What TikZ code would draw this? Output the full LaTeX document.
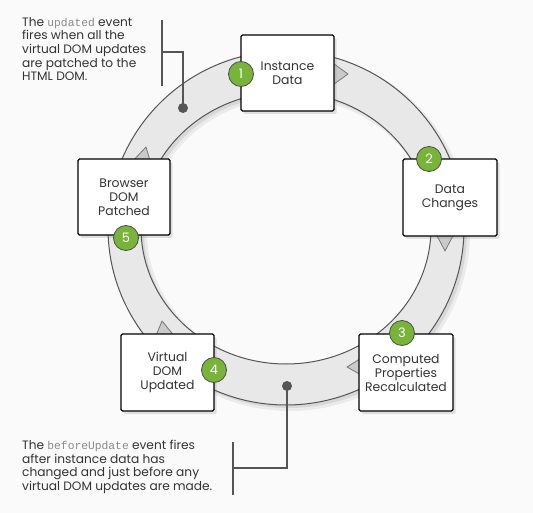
\documentclass[tikz,border=0pt]{standalone}
\usepackage{fontspec}
\setmainfont{Poppins}
\newfontfamily\codefont{Liberation Mono}
\usetikzlibrary{shadows}
\definecolor{bgcol}{HTML}{FAFAFA}
\definecolor{ringfill}{HTML}{E8E8E8}
\definecolor{ringline}{HTML}{555555}
\definecolor{tipfill}{HTML}{CACACA}
\definecolor{badgegreen}{HTML}{78B33A}
\definecolor{annot}{HTML}{555555}
\definecolor{txt}{HTML}{333333}
\definecolor{codegray}{HTML}{8A8A8A}
\newcommand{\cw}[1]{{\codefont\color{codegray}\fontsize{11.3}{13.6}\selectfont #1}}
\begin{document}
\begin{tikzpicture}[x=1pt,y=-1pt,
  stepbox/.style={draw=black, line width=1.1pt, fill=white, rounded corners=1.5pt,
    align=center, inner sep=2pt, text=txt,
    font=\fontsize{12.4}{14}\selectfont,
    drop shadow={opacity=0.22, shadow xshift=2.5pt, shadow yshift=-3pt}},
  badge/.style={circle, fill=badgegreen, draw=gray!60!black, line width=0.8pt,
    minimum size=25pt, inner sep=0pt, text=white, font=\fontsize{13}{13}\selectfont},
  tip/.style={fill=tipfill, draw=ringline!80, line width=0.8pt, line join=round},
  leader/.style={draw=annot, line width=1.2pt},
  note/.style={anchor=north west, inner sep=0pt, text=txt, align=left,
    font=\fontsize{12.2}{13.6}\selectfont},
  dotmark/.style={circle, fill=annot, inner sep=0pt, minimum size=10pt}
]
\fill[bgcol] (0,0) rectangle (533,513);
\useasboundingbox (0,0) rectangle (533,513);

% ring shadow and ring
\coordinate (rc) at (286,228);
\coordinate (rs) at (290,232);
\fill[black, opacity=0.06, even odd rule] (rs) ellipse [x radius=180pt, y radius=179pt] (rs) ellipse [x radius=143pt, y radius=134pt];
\fill[black, opacity=0.08, even odd rule] ([shift={(-1,-1)}]rs) ellipse [x radius=178pt, y radius=177pt] ([shift={(-1,-1)}]rs) ellipse [x radius=145pt, y radius=136pt];
\path[draw=ringline, fill=ringfill, line width=1pt, even odd rule]
  (rc) ellipse [x radius=178pt, y radius=177pt]
  (rc) ellipse [x radius=145pt, y radius=136pt];

% arrow tips on the ring
\draw[tip] (330,61) -- (348,74) -- (330,87) -- cycle;
\draw[tip] (435,232) -- (445,251) -- (455,232) -- cycle;
\draw[tip] (363,357) -- (347,367) -- (363,376) -- cycle;
\draw[tip] (155,338) -- (162,321) -- (176,338) -- cycle;
\draw[tip] (130,164) -- (146,147) -- (151,164) -- cycle;

% boxes
\node[stepbox, minimum width=93pt, minimum height=76pt] (b1) at (287.5,73) {Instance\\Data};
\node[stepbox, minimum width=94pt, minimum height=77pt] (b2) at (450,197.5) {Data\\Changes};
\node[stepbox, minimum width=94pt, minimum height=77pt] (b3) at (406,372.5) {Computed\\Properties\\Recalculated};
\node[stepbox, minimum width=93pt, minimum height=77pt] (b4) at (167.5,372.5) {Virtual\\DOM\\Updated};
\node[stepbox, minimum width=92pt, minimum height=76pt] (b5) at (124,197) {Browser\\DOM\\Patched};

% badges
\node[badge] (n1) at (241,74) {1};
\node[badge] (n2) at (429,159) {2};
\node[badge] (n3) at (402,333) {3};
\node[badge] (n4) at (214,370) {4};
\node[badge] (n5) at (126,238) {5};

% top annotation
\coordinate (t1) at (162,20);
\coordinate (t2) at (162,86);
\coordinate (tm) at (162,52);
\coordinate (tk) at (183,52);
\node[dotmark] (d1) at (183,108) {};
\draw[leader] (t1) -- (t2);
\draw[leader] (tm) -- (tk) -- (d1.center);
\node[note] (a1) at (22,17) {The \cw{updated} event\\fires when all the\\virtual DOM updates\\are patched to the\\HTML DOM.};

% bottom annotation
\coordinate (u1) at (233,442);
\coordinate (u2) at (233,495);
\coordinate (um) at (233,468);
\coordinate (uk) at (287,468);
\node[dotmark] (d2) at (287,386) {};
\draw[leader] (u1) -- (u2);
\draw[leader] (um) -- (uk) -- (d2.center);
\node[note] (a2) at (22,440) {The \cw{beforeUpdate} event fires\\after instance data has\\changed and just before any\\virtual DOM updates are made.};
\end{tikzpicture}
\end{document}
